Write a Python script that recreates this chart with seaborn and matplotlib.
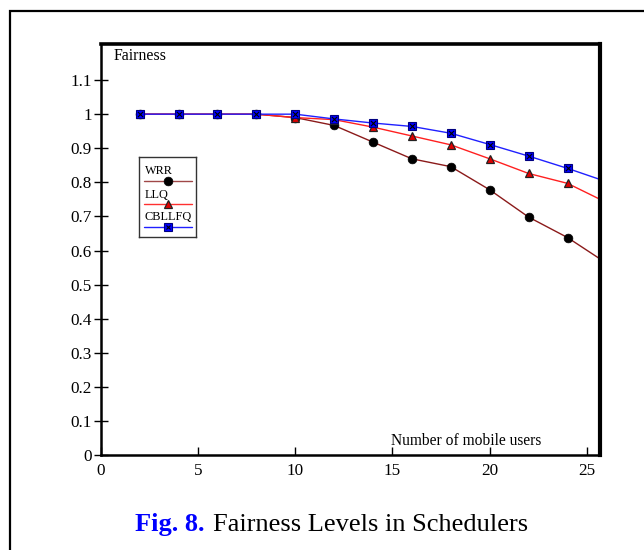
import matplotlib
matplotlib.use("Agg")
import matplotlib.pyplot as plt
from matplotlib.patches import Rectangle
import seaborn as sns

# ---- data ----
users = [2, 4, 6, 8, 10, 12, 14, 16, 18, 20, 22, 24, 26]
wrr = [1.0, 1.0, 1.0, 1.0, 0.99, 0.967, 0.918, 0.869, 0.846, 0.778, 0.698, 0.638, 0.563]
llq = [1.0, 1.0, 1.0, 1.0, 0.99, 0.984, 0.962, 0.936, 0.910, 0.869, 0.826, 0.797, 0.741]
cbllfq = [1.0, 1.0, 1.0, 1.0, 1.0, 0.986, 0.974, 0.964, 0.944, 0.911, 0.877, 0.841, 0.802]
series_names = ["WRR", "LLQ", "CBLLFQ"]
x_ticks = [0, 5, 10, 15, 20, 25]
y_ticks = [0, 0.1, 0.2, 0.3, 0.4, 0.5, 0.6, 0.7, 0.8, 0.9, 1.0, 1.1]
y_tick_labels = ["0", "0.1", "0.2", "0.3", "0.4", "0.5", "0.6", "0.7", "0.8", "0.9", "1", "1.1"]

sns.set_theme(style="white")
plt.rcParams["font.family"] = ["Liberation Serif", "DejaVu Serif"]

W, H = 644, 550
fig = plt.figure(figsize=(W / 100, H / 100), dpi=100)
fig.patch.set_facecolor("white")

ax_l, ax_r, ax_t, ax_b = 100.7, 600.0, 44.3, 455.0
ax = fig.add_axes([ax_l / W, 1 - ax_b / H, (ax_r - ax_l) / W, (ax_b - ax_t) / H])
ax.set_facecolor("white")

styles = {
    "WRR": dict(color="#8b1a1a", marker="o", mfc="black", mec="black", ms=6.3),
    "LLQ": dict(color="#ff2020", marker="^", mfc="#e00000", mec="#222222", ms=6.2, mew=0.9),
    "CBLLFQ": dict(color="#2020ff", marker="s", mfc="#0000ff", mec="#000080", ms=6.2, mew=0.8),
}
data = {"WRR": wrr, "LLQ": llq, "CBLLFQ": cbllfq}

for name in series_names:
    st = styles[name]
    sns.lineplot(x=users, y=data[name], ax=ax, color=st["color"], lw=1.0,
                 marker=st["marker"], markerfacecolor=st["mfc"],
                 markeredgecolor=st["mec"], markersize=st["ms"],
                 markeredgewidth=st.get("mew", 0.5), clip_on=True, sort=False)
# small crosses inside the squares
sns.scatterplot(x=users, y=cbllfq, ax=ax, marker="x", color="black", s=14,
                linewidth=0.8, zorder=5, clip_on=True)

ax.set_xlim(0, 25.67)
ax.set_ylim(0, 1.205)
ax.set_xticks(x_ticks)
ax.set_xticklabels([str(t) for t in x_ticks], fontsize=12.3)
ax.set_yticks(y_ticks)
ax.set_yticklabels(y_tick_labels, fontsize=12.3)
ax.tick_params(axis="x", direction="in", length=5.5, width=1.0, color="black", pad=6,
               bottom=True, top=False, labelcolor="black")
ax.tick_params(axis="y", direction="inout", length=9.5, width=1.0, color="black", pad=1.5,
               left=True, right=False, labelcolor="black")
ax.set_xlabel("")
ax.set_ylabel("")
for side, lw in [("left", 1.8), ("bottom", 1.8), ("top", 2.6), ("right", 3.0)]:
    ax.spines[side].set_visible(True)
    ax.spines[side].set_color("black")
    ax.spines[side].set_linewidth(lw)

ax.text((113.3 - ax_l) / (ax_r - ax_l), (ax_b - 60) / (ax_b - ax_t), "Fairness",
        transform=ax.transAxes, fontsize=11.4, ha="left", va="baseline", color="black")
ax.text((541.7 - ax_l) / (ax_r - ax_l), (ax_b - 445) / (ax_b - ax_t), "Number of mobile users",
        transform=ax.transAxes, fontsize=11.2, ha="right", va="baseline", color="black")

# ---- legend box (text above sample line) ----
lg_l, lg_r, lg_t, lg_b = 139, 196, 157, 237
leg = ax.inset_axes([(lg_l - ax_l) / (ax_r - ax_l), (ax_b - lg_b) / (ax_b - ax_t),
                     (lg_r - lg_l) / (ax_r - ax_l), (lg_b - lg_t) / (ax_b - ax_t)])
leg.set_xlim(0, 1)
leg.set_ylim(0, 1)
leg.set_xticks([])
leg.set_yticks([])
leg.set_facecolor("white")
for s in leg.spines.values():
    s.set_visible(True)
    s.set_color("#333333")
    s.set_linewidth(1.0)
text_y = [0.825, 0.528, 0.256]
line_y = [0.704, 0.416, 0.129]
leg_line_colors = {"WRR": "#a04848", "LLQ": "#ff3030", "CBLLFQ": "#2020ff"}
for name, ty, ly in zip(series_names, text_y, line_y):
    st = styles[name]
    leg.text(0.10, ty, name, fontsize=8.8, ha="left", va="center", color="black")
    leg.plot([0.09, 0.93], [ly, ly], color=leg_line_colors[name], lw=1.0)
    leg.plot([0.5], [ly], marker=st["marker"], mfc=st["mfc"], mec=st["mec"],
             ms=st["ms"], mew=st.get("mew", 0.5), ls="none")
    if name == "CBLLFQ":
        leg.plot([0.5], [ly], marker="x", color="black", ms=3.5, mew=0.8, ls="none")

# ---- caption ----
fig.text(135 / W, 1 - 531 / H, "Fig. 8.", color="#0000ff", fontweight="bold",
         fontsize=19, ha="left", va="baseline")
fig.text(212.7 / W, 1 - 531 / H, "Fairness Levels in Schedulers", color="black",
         fontsize=19, ha="left", va="baseline")

# ---- outer frame (runs off right and bottom edges) ----
fig.patches.append(Rectangle((10 / W, -0.2), 1.3, (1 - 11 / H) + 0.2, transform=fig.transFigure,
                             fill=False, ec="black", lw=1.6))

fig.savefig("out.png", dpi=100, facecolor="white")
